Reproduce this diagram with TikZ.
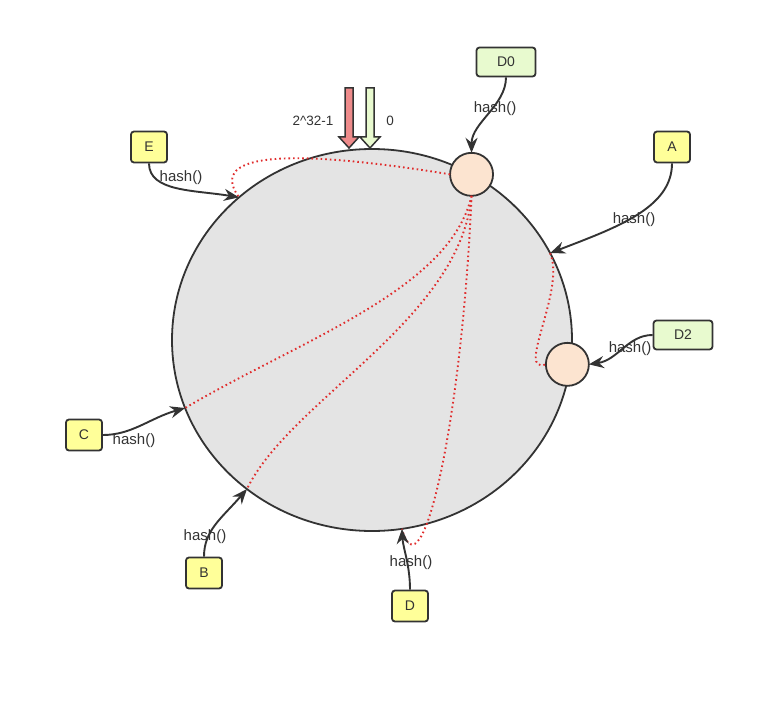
\documentclass[tikz,border=0pt]{standalone}
\usepackage{fontspec}
\setmainfont{Liberation Sans}
\usetikzlibrary{arrows.meta,shapes.geometric,positioning}
\definecolor{ringgray}{HTML}{E4E4E4}
\definecolor{edgegray}{HTML}{333333}
\definecolor{peach}{HTML}{FCE4D0}
\definecolor{keyyellow}{HTML}{FFFF99}
\definecolor{srvgreen}{HTML}{E8FACF}
\definecolor{maxred}{HTML}{EE8B8B}
\definecolor{dotred}{HTML}{E02C2C}
\tikzset{
	ring/.style={ellipse,draw=edgegray,fill=ringgray,line width=1.8pt,
		minimum width=400,minimum height=382,inner sep=0pt,outer sep=0pt},
	vnode/.style={circle,draw=edgegray,fill=peach,line width=1.8pt,
		minimum size=43,inner sep=0pt,outer sep=0pt},
	keybox/.style={draw=edgegray,fill=keyyellow,rounded corners=3pt,line width=1.8pt,
		minimum width=36,minimum height=31,inner sep=0pt,text=edgegray,
		font=\fontsize{14}{16}\selectfont},
	srvbox/.style={keybox,fill=srvgreen,minimum width=59,minimum height=29},
	hashlbl/.style={inner sep=0pt,text=edgegray,font=\fontsize{15}{17}\selectfont},
	ar/.style={draw=edgegray,line width=1.9pt,-{Stealth[length=15pt,width=12pt]}},
	map/.style={draw=dotred,line width=1.9pt,dash pattern=on 1.6pt off 3pt},
	bigarrow/.style={draw=edgegray,line width=1.5pt,line join=miter}
}
\begin{document}
\begin{tikzpicture}[x=1pt,y=-1pt]
	\useasboundingbox (0,0) rectangle (775,727);
	% hash ring
	\node[ring] (ring) at (372,340) {};
	\coordinate (hE) at (ring.133);
	\coordinate (hA) at (ring.26);
	\coordinate (hC) at (ring.200);
	\coordinate (hB) at (ring.230);
	\coordinate (hD) at (ring.279);
	% 2^32-1 / 0 markers
	\draw[bigarrow,fill=maxred] (345,88) -- (353,88) -- (353,137) -- (359,137)
		-- (349,148) -- (339,137) -- (345,137) -- cycle;
	\draw[bigarrow,fill=srvgreen] (366,88) -- (374,88) -- (374,137) -- (380,137)
		-- (370,148) -- (360,137) -- (366,137) -- cycle;
	\node[hashlbl,font=\fontsize{13.5}{15}\selectfont] (maxlbl) at (313,121) {2\textasciicircum 32-1};
	\node[hashlbl,font=\fontsize{13.5}{15}\selectfont] (zerolbl) at (390,121) {0};
	% virtual nodes of the servers
	\node[vnode] (v0) at (ring.59) {};
	\node[vnode] (v2) at ([xshift=-3]ring.-7) {};
	% keys and servers
	\node[srvbox] (d0key) at (506,62) {D0};
	\node[srvbox] (d2key) at (683,335) {D2};
	\node[keybox] (akey) at (672,147) {A};
	\node[keybox] (ekey) at (149,147) {E};
	\node[keybox] (ckey) at (84,435) {C};
	\node[keybox] (bkey) at (204,573) {B};
	\node[keybox] (dkey) at (410,606) {D};
	% where each key lands
	\draw[map] (v0.west) .. controls (300,150) and (205,150) .. (hE);
	\draw[map] (v0.south) .. controls (450,290) and (300,340) .. (hC);
	\draw[map] (v0.south) .. controls (460,320) and (290,400) .. (hB);
	\draw[map] (v0.south) .. controls (462,420) and (422,600) .. (hD);
	\draw[map] (hA) .. controls (566,290) and (515,375) .. (v2.west);
	% hash() connectors
	\draw[ar] (d0key.south) .. controls +(0,28) and +(0,-30) .. (v0.north);
	\draw[ar] (ekey.south) .. controls (149,192) and (195,190) .. (hE);
	\draw[ar] (akey.south) .. controls +(0,45) and (615,228) .. (hA);
	\draw[ar] (d2key.west) .. controls (628,335) and (618,360) .. (v2.east);
	\draw[ar] (ckey.east) .. controls (132,435) and (150,418) .. (hC);
	\draw[ar] (bkey.north) .. controls (204,530) and (222,518) .. (hB);
	\draw[ar] (dkey.north) .. controls (410,565) and (403,548) .. (hD);
	% labels
	\node[hashlbl] (lD0) at (495,109) {hash()};
	\node[hashlbl] (lE) at (181,178) {hash()};
	\node[hashlbl] (lA) at (634,220) {hash()};
	\node[hashlbl] (lD2) at (630,349) {hash()};
	\node[hashlbl] (lC) at (134,441) {hash()};
	\node[hashlbl] (lB) at (205,537) {hash()};
	\node[hashlbl] (lD) at (411,563) {hash()};
\end{tikzpicture}
\end{document}
